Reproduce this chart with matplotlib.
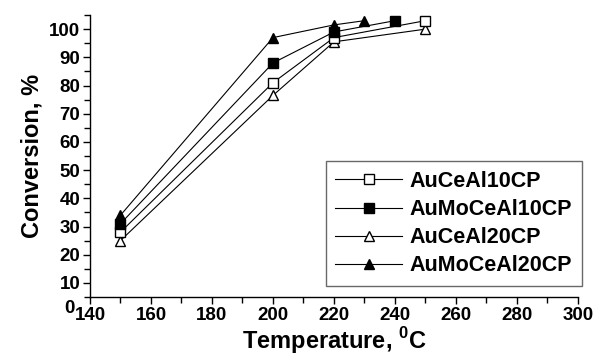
import matplotlib
matplotlib.use("Agg")
import matplotlib.pyplot as plt
from matplotlib.ticker import MultipleLocator

plt.rcParams['font.family'] = ['Liberation Sans', 'DejaVu Sans']
plt.rcParams['font.weight'] = 'bold'
plt.rcParams['mathtext.fontset'] = 'custom'
plt.rcParams['mathtext.rm'] = 'Liberation Sans:bold'
plt.rcParams['mathtext.bf'] = 'Liberation Sans:bold'

# Data
labels = ["AuCeAl10CP", "AuMoCeAl10CP", "AuCeAl20CP", "AuMoCeAl20CP"]
temp_ce10 = [150, 200, 220, 250]
conv_ce10 = [28, 81, 97, 103]
temp_moce10 = [150, 200, 220, 240]
conv_moce10 = [31, 88, 99, 103]
temp_ce20 = [150, 200, 220, 250]
conv_ce20 = [25, 76.5, 95.5, 100]
temp_moce20 = [150, 200, 220, 230]
conv_moce20 = [34, 97, 101.5, 103]

xticks = [140, 160, 180, 200, 220, 240, 260, 280, 300]
yticks = [10, 20, 30, 40, 50, 60, 70, 80, 90, 100]

fig = plt.figure(figsize=(5.94, 3.58), dpi=100)
ax = fig.add_axes([0.1515, 0.1704, 0.8215, 0.7876])

series = [
    (temp_ce20, conv_ce20, '^', 'white'),
    (temp_ce10, conv_ce10, 's', 'white'),
    (temp_moce10, conv_moce10, 's', 'black'),
    (temp_moce20, conv_moce20, '^', 'black'),
]
handles = []
for x, y, m, fc in series:
    h, = ax.plot(x, y, color='black', lw=0.8, marker=m, markersize=7.5,
                 markerfacecolor=fc, markeredgecolor='black', markeredgewidth=1)
    handles.append(h)

ax.set_xlim(140, 300)
ax.set_ylim(5, 105)
ax.set_xticks(xticks)
ax.set_yticks(yticks)
ax.xaxis.set_minor_locator(MultipleLocator(10))
ax.yaxis.set_minor_locator(MultipleLocator(5))
ax.tick_params(which='major', direction='out', length=5, width=1, labelsize=13.5, pad=2)
ax.tick_params(which='minor', direction='out', length=4, width=1)
for lab in ax.get_xticklabels() + ax.get_yticklabels():
    lab.set_fontweight('bold')
# "0" label that sits below the axis in the reference
ax.text(-0.032, -0.04, "0", transform=ax.transAxes, ha='right', va='center',
        fontsize=13.5, fontweight='bold')

for side in ['top', 'right']:
    ax.spines[side].set_visible(False)
for side in ['left', 'bottom']:
    ax.spines[side].set_linewidth(1)

ax.set_xlabel(r'Temperature, $^{0}$C', fontsize=17, fontweight='bold', labelpad=1)
ax.set_ylabel('Conversion, %', fontsize=17, fontweight='bold', labelpad=4)

leg = ax.legend([handles[1], handles[2], handles[0], handles[3]], labels,
                loc='lower right', bbox_to_anchor=(1.008, 0.039),
                fontsize=15.5, frameon=True, fancybox=False, edgecolor='#444444',
                handlelength=3.1, handletextpad=0.35, labelspacing=0.33,
                borderpad=0.45, borderaxespad=0)
leg.get_frame().set_linewidth(1)
for t in leg.get_texts():
    t.set_fontweight('bold')

fig.savefig("out.png", dpi=100)
